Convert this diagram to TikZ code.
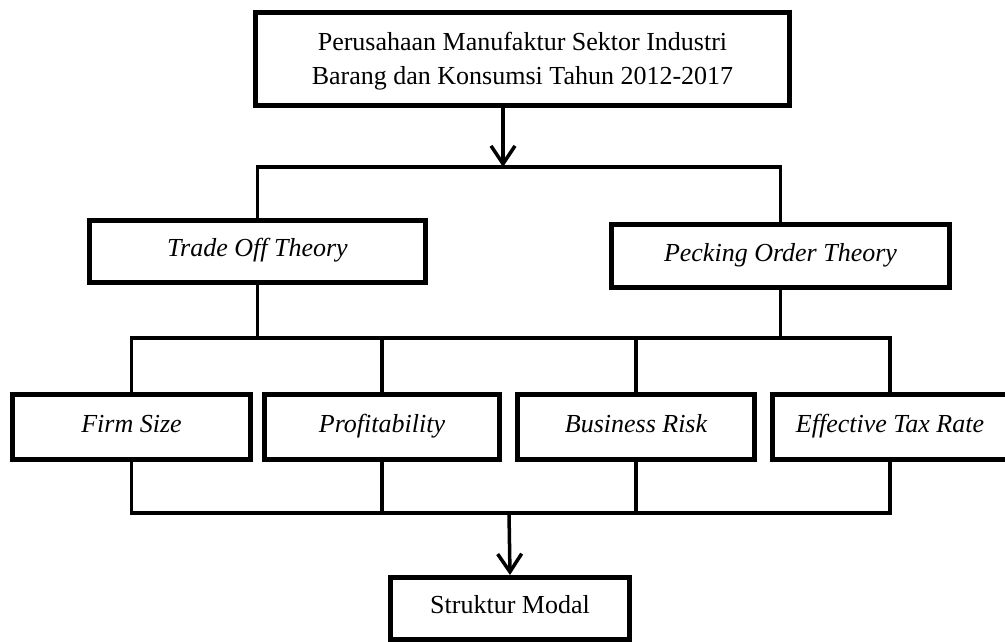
\documentclass[tikz,border=0pt]{standalone}
\usepackage{fontspec}
\setmainfont{Liberation Serif}
\usepackage{tikz}
\usetikzlibrary{arrows.meta, positioning, calc}

\begin{document}
\begin{tikzpicture}[x=1pt, y=-1pt,
                    box/.style={draw, line width=5pt, inner sep=0pt, font=\fontsize{26}{34}\selectfont, align=center},
                    item/.style={box, text height=17pt, text depth=7pt},
                    link/.style={line width=3.5pt},
                    arr/.style={link, -{Straight Barb[length=18pt, width=24pt]}}]
                    \useasboundingbox (0,0) rectangle (1005,642);
                    \node[box, text depth=1pt, minimum width=534pt, minimum height=93pt] (top) at (522.5,59) {Perusahaan Manufaktur Sektor Industri\\Barang dan Konsumsi Tahun 2012-2017};
                    \node[item, minimum width=336pt, minimum height=62pt] (tot) at (257.5,251.5) {\itshape Trade Off Theory};
                    \node[item, minimum width=338pt, minimum height=63pt] (pot) at (780.5,256) {\itshape Pecking Order Theory};
                    \node[item, minimum width=238pt, minimum height=65pt] (fs) at (131.5,427) {\itshape Firm Size};
                    \node[item, minimum width=235pt, minimum height=65pt] (pr) at (382,427) {\itshape Profitability};
                    \node[item, minimum width=237pt, minimum height=65pt] (br) at (636,427) {\itshape Business Risk};
                    \node[item, minimum width=235pt, minimum height=65pt] (etr) at (890,427) {\itshape Effective Tax Rate};
                    \node[item, minimum width=239pt, minimum height=62pt] (sm) at (510,608.5) {Struktur Modal};
                    % junctions
                    \coordinate (j1) at (503,167);
                    \coordinate (j2) at (0,338);
                    \coordinate (j3) at (509,513);
                    \draw[arr] (top.south -| j1) -- (j1);
                    \draw[link] (tot.north) -- (tot.north |- j1) -- (pot.north |- j1) -- (pot.north);
                    \draw[link] (tot.south) -- (tot.south |- j2);
                    \draw[link] (pot.south) -- (pot.south |- j2);
                    \draw[link] (fs.north) -- (fs.north |- j2) -- (etr.north |- j2) -- (etr.north);
                    \draw[link] (pr.north) -- (pr.north |- j2);
                    \draw[link] (br.north) -- (br.north |- j2);
                    \draw[link] (fs.south) -- (fs.south |- j3) -- (etr.south |- j3) -- (etr.south);
                    \draw[link] (pr.south) -- (pr.south |- j3);
                    \draw[link] (br.south) -- (br.south |- j3);
                    \draw[arr] (j3) -- (sm.north);
\end{tikzpicture}
\end{document}
